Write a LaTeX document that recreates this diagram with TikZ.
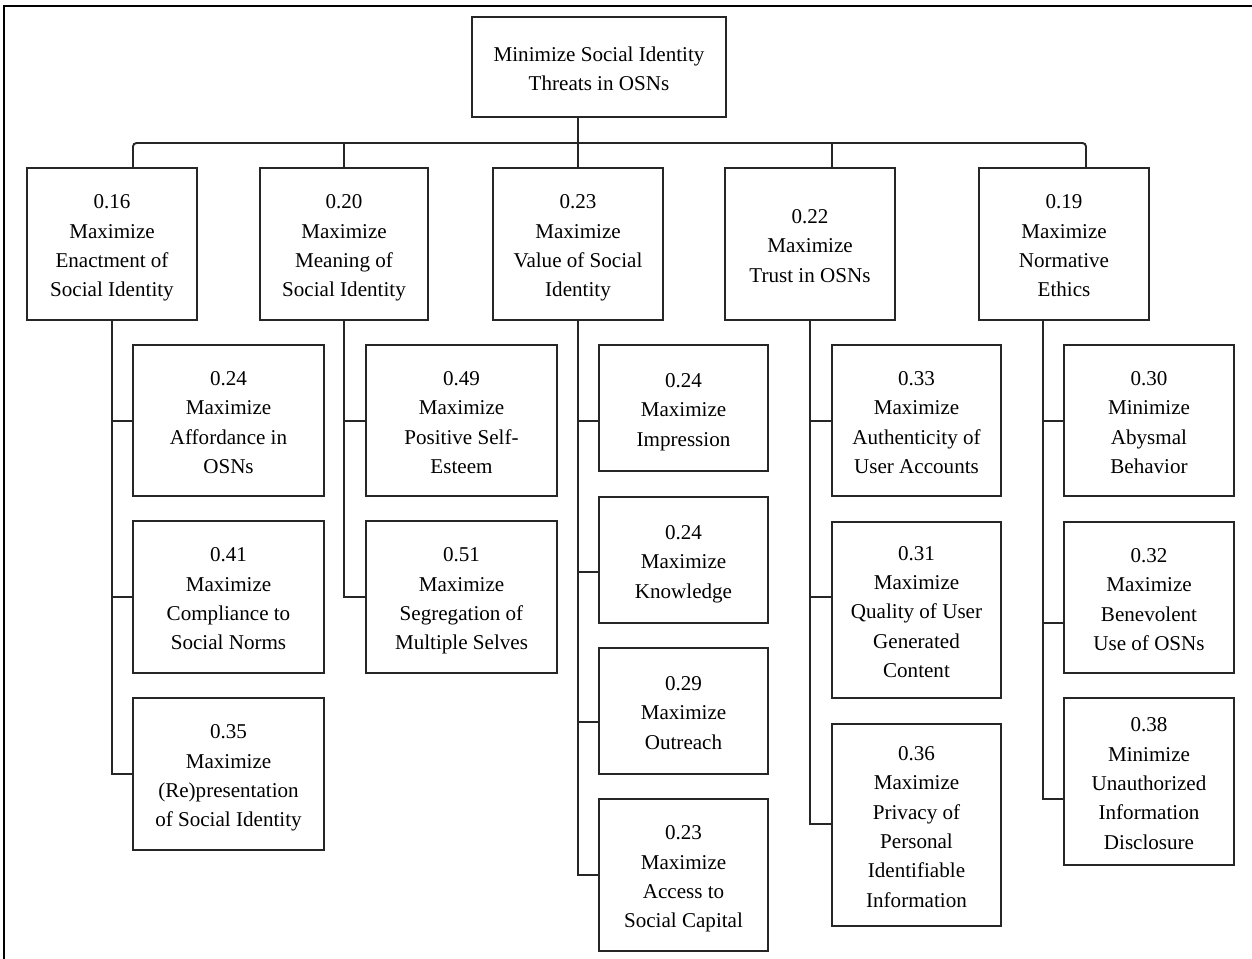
\documentclass[tikz,border=0pt]{standalone}
\usepackage{fontspec}
\setmainfont{Liberation Serif}
% uniform top/bottom clearance so every goal text sits the same way in its box
\newcommand\goaltxt[1]{\rule{0pt}{13.2pt}#1\rule[-3pt]{0pt}{3pt}}
\begin{document}
\begin{tikzpicture}[x=0.02cm,y=-0.02cm,
  link/.style={draw=black!85,line width=1.1pt},
  goal/.style={draw=black!85,line width=1.1pt,align=center,inner sep=0pt,
    font=\fontsize{12}{16.7}\selectfont},
  box/.style 2 args={goal,minimum width=#1*0.02cm,minimum height=#2*0.02cm}]
\useasboundingbox (0,0) rectangle (1252,959);

% outer frame
\draw[line width=1.7pt] (4,965) -- (4,6) -- (1260,6);

% root goal
\node[box={254}{100}] (root) at (599,67) {\goaltxt{Minimize Social Identity\\Threats in OSNs}};

% first-level goals
\node[box={170}{152}] (a) at (112,244) {\goaltxt{0.16\\Maximize\\Enactment of\\Social Identity}};
\node[box={168}{152}] (b) at (344,244) {\goaltxt{0.20\\Maximize\\Meaning of\\Social Identity}};
\node[box={170}{152}] (c) at (578,244) {\goaltxt{0.23\\Maximize\\Value of Social\\Identity}};
\node[box={170}{152}] (d) at (810,244) {\goaltxt{0.22\\Maximize\\Trust in OSNs}};
\node[box={170}{152}] (e) at (1064,244) {\goaltxt{0.19\\Maximize\\Normative\\Ethics}};

% sub-goals: enactment
\node[box={191}{151}] (a1) at (228.5,420.5) {\goaltxt{0.24\\Maximize\\Affordance in\\OSNs}};
\node[box={191}{152}] (a2) at (228.5,597) {\goaltxt{0.41\\Maximize\\Compliance to\\Social Norms}};
\node[box={191}{152}] (a3) at (228.5,774) {\goaltxt{0.35\\Maximize\\(Re)presentation\\of Social Identity}};

% sub-goals: meaning
\node[box={191}{151}] (b1) at (461.5,420.5) {\goaltxt{0.49\\Maximize\\Positive Self-\\Esteem}};
\node[box={191}{152}] (b2) at (461.5,597) {\goaltxt{0.51\\Maximize\\Segregation of\\Multiple Selves}};

% sub-goals: value
\node[box={169}{126}] (c1) at (683.5,408) {\goaltxt{0.24\\Maximize\\Impression}};
\node[box={169}{126}] (c2) at (683.5,560) {\goaltxt{0.24\\Maximize\\Knowledge}};
\node[box={169}{126}] (c3) at (683.5,711) {\goaltxt{0.29\\Maximize\\Outreach}};
\node[box={169}{152}] (c4) at (683.5,875) {\goaltxt{0.23\\Maximize\\Access to\\Social Capital}};

% sub-goals: trust
\node[box={169}{151}] (d1) at (916.5,420.5) {\goaltxt{0.33\\Maximize\\Authenticity of\\User Accounts}};
\node[box={169}{176}] (d2) at (916.5,610) {\goaltxt{0.31\\Maximize\\Quality of User\\Generated\\Content}};
\node[box={169}{202}] (d3) at (916.5,825) {\goaltxt{0.36\\Maximize\\Privacy of\\Personal\\Identifiable\\Information}};

% sub-goals: ethics
\node[box={170}{151}] (e1) at (1149,420.5) {\goaltxt{0.30\\Minimize\\Abysmal\\Behavior}};
\node[box={170}{151}] (e2) at (1149,597.5) {\goaltxt{0.32\\Maximize\\Benevolent\\Use of OSNs}};
\node[box={170}{167}] (e3) at (1149,781.5) {\goaltxt{0.38\\Minimize\\Unauthorized\\Information\\Disclosure}};

% bus from the root to the first level
\coordinate (busA) at (133,143);
\coordinate (busD) at (832,143);
\coordinate (busE) at (1086,143);
\draw[link,rounded corners=2] (a.north -| busA) -- (busA) -- (busE) -- (e.north -| busE);
\draw[link] (root.south -| c.north) -- (c.north);
\draw[link] (b.north) -- (b.north |- busA);
\draw[link] (d.north -| busD) -- (busD);

% trunks to the sub-goals
\draw[link] (a.south) |- (a3.west);
\draw[link] (a1.west |- 0,421) -- (a.south |- 0,421);
\draw[link] (a2.west |- 0,597) -- (a.south |- 0,597);

\draw[link] (b.south) |- (b2.west);
\draw[link] (b1.west |- 0,421) -- (b.south |- 0,421);

\draw[link] (c.south) |- (c4.west);
\draw[link] (c1.west |- 0,421) -- (c.south |- 0,421);
\draw[link] (c2.west |- 0,572) -- (c.south |- 0,572);
\draw[link] (c3.west |- 0,722) -- (c.south |- 0,722);

\draw[link] (d.south) |- (d3.west |- 0,824);
\draw[link] (d1.west |- 0,421) -- (d.south |- 0,421);
\draw[link] (d2.west |- 0,597) -- (d.south |- 0,597);

\coordinate (eT) at (1043,320);
\draw[link] (eT) |- (e3.west |- 0,799);
\draw[link] (e1.west |- 0,421) -- (eT |- 0,421);
\draw[link] (e2.west |- 0,623) -- (eT |- 0,623);
\end{tikzpicture}
\end{document}
